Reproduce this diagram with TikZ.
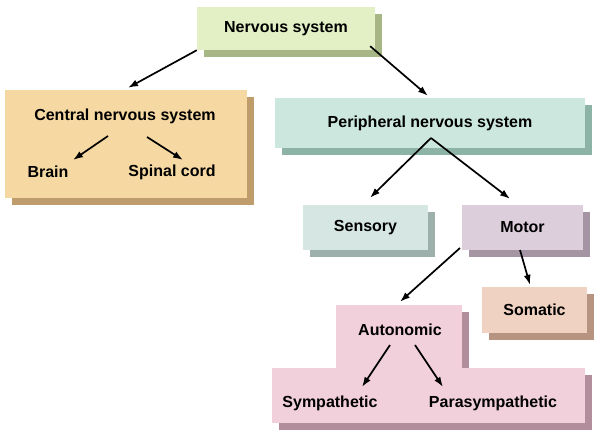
\documentclass[tikz,border=0pt]{standalone}
\usepackage{fontspec}
\setmainfont{Liberation Sans}
\usepackage{tikz}
\usetikzlibrary{calc,shadows,arrows,arrows.meta}

\definecolor{nsfill}{HTML}{E3EFC4}   \definecolor{nsside}{HTML}{A6B684}
\definecolor{cnsfill}{HTML}{F6D8A2}  \definecolor{cnsside}{HTML}{BF9C6C}
\definecolor{pnsfill}{HTML}{CBE7DE}  \definecolor{pnsside}{HTML}{8CB3A6}
\definecolor{sensfill}{HTML}{D6E6E2} \definecolor{sensside}{HTML}{9DB0AB}
\definecolor{motfill}{HTML}{DCCEDB}  \definecolor{motside}{HTML}{A595A4}
\definecolor{somfill}{HTML}{F0D2C2}  \definecolor{somside}{HTML}{B79482}
\definecolor{autfill}{HTML}{F1CFDB}  \definecolor{autside}{HTML}{B28E9D}

\tikzset{
	box/.style 2 args={fill=#1, inner sep=0pt, font=\fontsize{16}{18}\selectfont\bfseries,
		drop shadow={shadow xshift=7pt, shadow yshift=-7pt, fill=#2, opacity=1}},
	label/.style={inner sep=0pt, font=\fontsize{16}{18}\selectfont\bfseries},
	arr/.style={line width=1.7pt, -{Latex[length=10pt,width=7pt]}}
}

\begin{document}
\begin{tikzpicture}[x=1pt,y=-1pt]
	\useasboundingbox (0,0) rectangle (600,447);

	%boxes
	\node[box={nsfill}{nsside}, minimum width=178, minimum height=43] (ns) at (286,28.5) {Nervous system};
	\node[box={cnsfill}{cnsside}, minimum width=242, minimum height=108] (cns) at (126,144) {};
	\node[box={pnsfill}{pnsside}, minimum width=310, minimum height=50] (pns) at (430,123) {Peripheral nervous system};
	\node[box={sensfill}{sensside}, minimum width=125, minimum height=45] (sens) at (365.5,227.5) {Sensory};
	\node[box={motfill}{motside}, minimum width=121, minimum height=45] (motor) at (522.5,227.5) {Motor};
	\node[box={somfill}{somside}, minimum width=105, minimum height=46] (som) at (534.5,310) {Somatic};
	\node[box={autfill}{autside}, minimum width=126, minimum height=63] (autup) at (399,336.5) {};
	\node[box={autfill}{autside}, minimum width=313, minimum height=55] (autlow) at (428.5,395.5) {};

	%inner labels
	\node[label] (cnstitle) at (125,116) {Central nervous system};
	\node[label] (brain) at (48,172) {Brain};
	\node[label] (cord) at (172,172) {Spinal cord};
	%
	\node[label] (aut) at (400,330) {Autonomic};
	\node[label] (symp) at (330,403) {Sympathetic};
	\node[label] (para) at (493,403) {Parasympathetic};

	%arrows
	\draw[arr] (ns.south west) -- ([shift={(2,-2)}]cns.north);
	\draw[arr] ([shift={(-5,-4)}]ns.south east) -- ([shift={(-2,-2)}]pns.north);
	\draw[arr] ([shift={(-17,20)}]cnstitle.center) -- ([shift={(25,-12)}]brain.center);
	\draw[arr] ([shift={(22,21)}]cnstitle.center) -- ([shift={(11,-12)}]cord.center);
	%
	\coordinate (fork) at ([shift={(1,15)}]pns.center);
	\draw[arr] (fork) -- ([shift={(4.5,-7)}]sens.north);
	\draw[arr] (fork) -- ([shift={(-12.5,-6)}]motor.north);
	%
	\draw[arr] ([shift={(-62.5,20.5)}]motor.center) -- ([shift={(1,-3)}]autup.north);
	\draw[arr] ([shift={(-2.5,22.5)}]motor.center) -- ([shift={(-4.5,-2)}]som.north);
	\draw[arr] ([shift={(-10,15)}]aut.center) -- ([shift={(32,-16)}]symp.center);
	\draw[arr] ([shift={(15,15)}]aut.center) -- ([shift={(-50,-16)}]para.center);

	%\draw[help lines] (0,0) grid[step=50] (600,447);
\end{tikzpicture}
\end{document}
